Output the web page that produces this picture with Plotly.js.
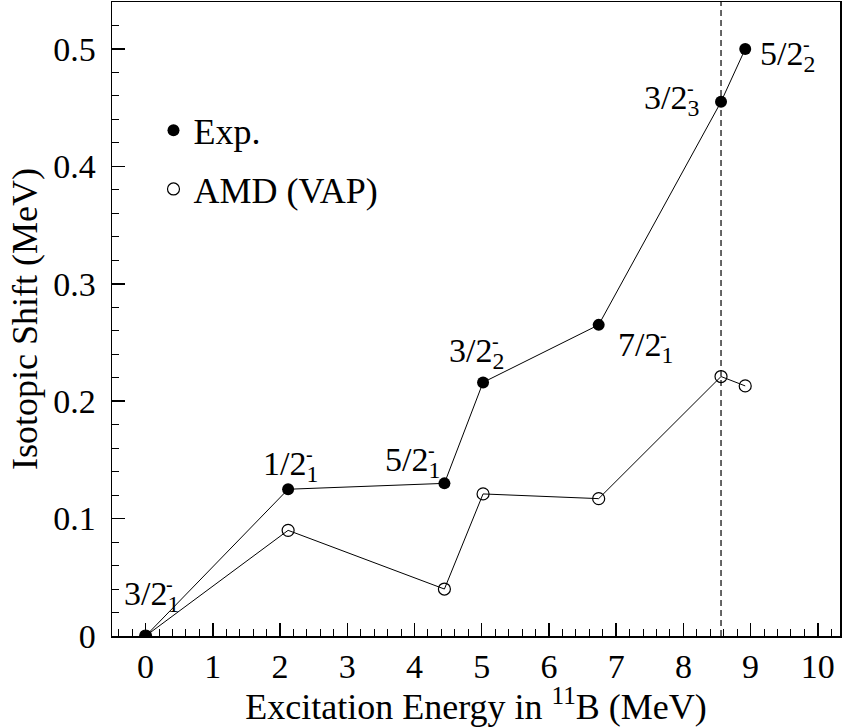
<!DOCTYPE html>
<html><head><meta charset="utf-8">
<script src="https://cdn.plot.ly/plotly-3.0.1.min.js"></script>
<style>html,body{margin:0;padding:0;background:#fff}#chart{width:847px;height:727px}</style>
</head><body><div id="chart"></div>
<script>
// ---- data ----
const excitationEnergy = [0, 2.12, 4.445, 5.02, 6.74, 8.56, 8.92];
const expShift = [0, 0.125, 0.130, 0.216, 0.265, 0.455, 0.500];
const amdShift = [0, 0.090, 0.040, 0.121, 0.117, 0.221, 0.213];
const stateBase = ['3/2', '1/2', '5/2', '3/2', '7/2', '3/2', '5/2'];
const stateIndex = ['1', '1', '1', '2', '1', '3', '2'];
const stateParity = ['-', '-', '-', '-', '-', '-', '-'];
const thresholdEnergy = 8.56;
const seriesNames = ['Exp.', 'AMD (VAP)'];
const xTickVals = [0, 1, 2, 3, 4, 5, 6, 7, 8, 9, 10];
const xTickText = ['0', '1', '2', '3', '4', '5', '6', '7', '8', '9', '10'];
const yTickVals = [0, 0.1, 0.2, 0.3, 0.4, 0.5];
const yTickText = ['0', '0.1', '0.2', '0.3', '0.4', '0.5'];

// ---- style / placement ----
const FONT = '"Liberation Serif", "Times New Roman", Times, serif';
const labelShift = [[-24, 40], [-27, 23], [-61, 21], [-36, 29], [17, -22], [-79, 2], [13, -7]];

const traces = [
  {x: excitationEnergy, y: expShift, mode: 'lines', line: {color: '#000', width: 1}, showlegend: false, hoverinfo: 'skip'},
  {x: excitationEnergy, y: amdShift, mode: 'lines', line: {color: '#000', width: 1}, showlegend: false, hoverinfo: 'skip'},
  {x: excitationEnergy, y: expShift, mode: 'markers', name: seriesNames[0], legendgroup: 'a',
   marker: {symbol: 'circle', size: 12, color: '#000'}},
  {x: excitationEnergy, y: amdShift, mode: 'markers', name: seriesNames[1], legendgroup: 'b',
   marker: {symbol: 'circle-open', size: 12, color: '#000', line: {width: 1.2, color: '#000'}}}
];

const annotations = [];
excitationEnergy.forEach((xv, i) => {
  const [dx, dy] = labelShift[i];
  annotations.push({x: xv, y: expShift[i], xref: 'x', yref: 'y', showarrow: false,
    xanchor: 'left', yanchor: 'middle', xshift: dx, yshift: dy,
    text: stateBase[i] + '<sub>' + stateIndex[i] + '</sub>',
    font: {family: FONT, size: 34, color: '#000'}});
  annotations.push({x: xv, y: expShift[i], xref: 'x', yref: 'y', showarrow: false,
    xanchor: 'center', yanchor: 'middle', xshift: dx + 48, yshift: dy + 12,
    text: stateParity[i], font: {family: FONT, size: 20, color: '#000'}});
});

const axisCommon = {
  showgrid: false, zeroline: false, showline: true, linecolor: '#000', linewidth: 1.5,
  mirror: true, ticks: 'inside', ticklen: 13, tickwidth: 1.5, tickcolor: '#000',
  tickfont: {family: FONT, size: 34, color: '#000'}, tickmode: 'array'
};

const layout = {
  width: 847, height: 727,
  margin: {l: 112, r: 7, t: 2, b: 91},
  paper_bgcolor: '#fff', plot_bgcolor: '#fff',
  font: {family: FONT, color: '#000'},
  xaxis: Object.assign({}, axisCommon, {
    range: [-0.5, 10.33], tickvals: xTickVals, ticktext: xTickText,
    minor: {dtick: 0.2, ticks: 'inside', ticklen: 7, tickwidth: 1, tickcolor: '#000', showgrid: false},
    title: {text: 'Excitation Energy in <sup>11</sup>B (MeV)', font: {family: FONT, size: 36, color: '#000'}, standoff: 0}
  }),
  yaxis: Object.assign({}, axisCommon, {
    range: [0, 0.54], tickvals: yTickVals, ticktext: yTickText, ticklabelstandoff: 8,
    minor: {dtick: 0.02, ticks: 'inside', ticklen: 7, tickwidth: 1, tickcolor: '#000', showgrid: false},
    title: {text: 'Isotopic Shift (MeV)', font: {family: FONT, size: 36, color: '#000'}, standoff: 4}
  }),
  showlegend: true,
  legend: {x: 0.057, y: 0.845, xanchor: 'left', yanchor: 'top', bgcolor: 'rgba(0,0,0,0)',
    font: {family: FONT, size: 36, color: '#000'}, tracegroupgap: 9, itemwidth: 30},
  shapes: [{type: 'line', xref: 'x', yref: 'paper', x0: thresholdEnergy, x1: thresholdEnergy, y0: 0, y1: 1,
    line: {color: '#000', width: 1.2, dash: '6px,4px'}}],
  annotations: annotations
};

Plotly.newPlot('chart', traces, layout, {displayModeBar: false, staticPlot: true});
</script></body></html>
